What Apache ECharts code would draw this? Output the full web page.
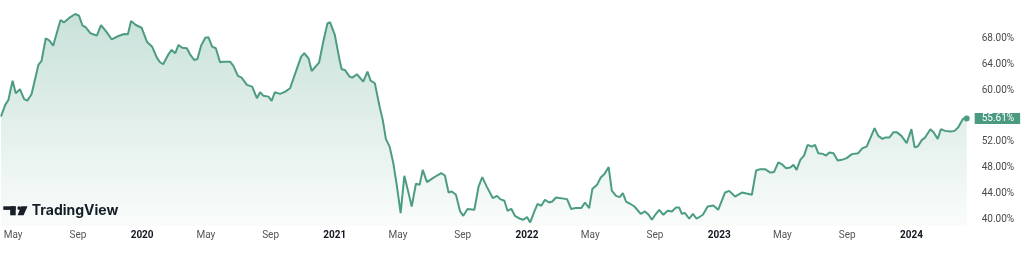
<!DOCTYPE html>
<html><head><meta charset="utf-8">
<script src="https://cdn.jsdelivr.net/npm/echarts@6/dist/echarts.min.js"></script>
<style>html,body{margin:0;padding:0;background:#fff}#c{width:1024px;height:255px}</style>
</head><body><div id="c"></div>
<script>
const dates = [
'2019-04-08','2019-04-16','2019-04-22','2019-04-30','2019-05-06','2019-05-14','2019-05-22','2019-05-28','2019-06-05','2019-06-18',
'2019-06-24','2019-07-02','2019-07-09','2019-07-16','2019-07-30','2019-08-06','2019-08-17','2019-08-27','2019-09-03','2019-09-10',
'2019-09-16','2019-09-25','2019-10-07','2019-10-15','2019-10-26','2019-11-04','2019-11-17','2019-11-28','2019-12-05','2019-12-11',
'2019-12-20','2019-12-31','2020-01-10','2020-01-20','2020-01-29','2020-02-04','2020-02-10','2020-02-20','2020-02-26','2020-03-04',
'2020-03-10','2020-03-17','2020-03-26','2020-04-01','2020-04-09','2020-04-15','2020-04-22','2020-04-30','2020-05-06','2020-05-13',
'2020-05-20','2020-05-28','2020-06-03','2020-06-16','2020-06-22','2020-07-01','2020-07-08','2020-07-18','2020-07-28','2020-08-06',
'2020-08-12','2020-08-18','2020-08-28','2020-09-03','2020-09-09','2020-09-19','2020-09-29','2020-10-08','2020-10-19','2020-10-29',
'2020-11-04','2020-11-12','2020-11-18','2020-12-02','2020-12-10','2020-12-18','2020-12-23','2021-01-01','2021-01-10','2021-01-14',
'2021-01-20','2021-01-29','2021-02-03','2021-02-12','2021-02-24','2021-03-04','2021-03-10','2021-03-18','2021-03-27','2021-04-02',
'2021-04-08','2021-04-15','2021-04-22','2021-04-29','2021-05-06','2021-05-13','2021-05-21','2021-05-27','2021-06-04','2021-06-11',
'2021-06-17','2021-06-25','2021-07-04','2021-07-14','2021-07-22','2021-07-29','2021-08-05','2021-08-11','2021-08-19','2021-08-27',
'2021-09-02','2021-09-10','2021-09-23','2021-10-01','2021-10-08','2021-10-17','2021-10-28','2021-11-05','2021-11-11','2021-11-19',
'2021-11-25','2021-12-02','2021-12-09','2021-12-19','2021-12-25','2022-01-01','2022-01-07','2022-01-15','2022-01-21','2022-01-28',
'2022-02-04','2022-02-12','2022-02-18','2022-02-25','2022-03-18','2022-03-26','2022-04-02','2022-04-14','2022-04-21','2022-04-29',
'2022-05-05','2022-05-14','2022-05-21','2022-05-28','2022-06-05','2022-06-11','2022-06-19','2022-06-26','2022-07-02','2022-07-08',
'2022-07-16','2022-07-24','2022-08-05','2022-08-13','2022-08-20','2022-08-26','2022-09-03','2022-09-09','2022-09-17','2022-09-25',
'2022-10-03','2022-10-11','2022-10-17','2022-10-22','2022-10-28','2022-11-05','2022-11-12','2022-11-19','2022-12-01','2022-12-10',
'2022-12-21','2022-12-30','2023-01-12','2023-01-20','2023-01-31','2023-02-13','2023-02-24','2023-03-04','2023-03-12','2023-03-20',
'2023-03-29','2023-04-08','2023-04-15','2023-04-23','2023-04-30','2023-05-08','2023-05-16','2023-05-22','2023-05-28','2023-06-04',
'2023-06-11','2023-06-18','2023-06-26','2023-07-02','2023-07-08','2023-07-17','2023-07-23','2023-07-29','2023-08-06','2023-08-14',
'2023-08-22','2023-08-31','2023-09-10','2023-09-22','2023-09-30','2023-10-08','2023-10-15','2023-10-23','2023-10-30','2023-11-07',
'2023-11-12','2023-11-20','2023-11-28','2023-12-04','2023-12-13','2023-12-23','2024-01-01','2024-01-07','2024-01-13','2024-01-21',
'2024-01-27','2024-02-06','2024-02-12','2024-02-20','2024-02-26','2024-03-05','2024-03-15','2024-03-23','2024-03-30','2024-04-08',
'2024-04-15'
];
const values = [
55.9,57.7,58.47,61.45,59.51,60.12,58.58,58.36,59.35,63.88,
64.5,68.01,67.64,66.86,70.83,70.48,71.25,71.76,71.5,69.95,
69.71,68.78,68.41,70.06,68.93,67.85,68.36,68.67,68.62,70.68,
70.06,69.64,67.48,66.71,65.01,64.3,63.99,65.53,66.2,65.69,
66.97,66.55,66.46,65.53,64.65,64.81,66.86,68.1,68.16,66.71,
66.46,64.3,64.39,64.39,63.77,62.18,61.92,60.79,60.53,58.73,
59.66,59.13,58.98,58.32,59.66,59.4,59.75,60.28,62.84,65.16,
65.69,64.91,62.95,64.23,67.48,70.32,70.48,68.52,64.65,63.21,
63.11,62.07,61.92,62.44,61.3,62.84,61.45,61.05,57.43,55.38,
52.4,51.25,48.69,45.07,40.96,46.72,44.05,41.98,45.49,45.33,
47.65,45.75,46.26,46.77,47.14,46.77,44.14,44.3,43.79,41.21,
40.54,41.58,41.47,45.07,46.52,44.98,43.28,43.63,43.12,42.86,
41.31,41.62,40.54,40.08,39.92,40.34,39.51,41.21,42.4,42.09,
43.01,42.6,42.75,43.37,43.12,41.58,41.73,41.73,42.6,41.73,
44.67,45.33,46.46,46.99,48.07,44.45,43.63,43.43,44.05,42.75,
42.4,41.98,40.85,41.21,40.7,39.92,40.85,41.47,40.7,41.31,
41.21,41.82,41.82,40.85,40.96,40.08,40.85,40.08,40.7,41.98,
42.13,41.47,44.14,44.4,43.52,44.14,43.94,43.79,47.54,47.76,
47.76,47.23,47.3,48.78,48.53,47.91,48.01,48.42,47.65,49.2,
49.86,51.51,51.25,51.51,50.23,50.12,49.86,50.32,50.23,49.09,
49.2,49.46,50.08,50.23,51.0,51.25,52.55,54.1,52.91,52.44,
52.64,52.64,53.48,53.48,52.91,51.78,53.94,51.16,51.25,52.29,
52.64,53.94,53.48,52.44,53.94,53.68,53.57,53.68,54.25,55.55,
55.61
];
const xTickDates = ['2019-05-01','2019-09-01','2020-01-01','2020-05-01','2020-09-01','2021-01-01','2021-05-01','2021-09-01',
  '2022-01-01','2022-05-01','2022-09-01','2023-01-01','2023-05-01','2023-09-01','2024-01-01'];
const yTickValues = [40,44,48,52,60,64,68];
const monthNames = ['Jan','Feb','Mar','Apr','May','Jun','Jul','Aug','Sep','Oct','Nov','Dec'];

function ts(s){const p=s.split('-');return new Date(+p[0],+p[1]-1,+p[2]).getTime();}
const lineColor = '#4c9c84';
const seriesData = dates.map((d,i)=>[ts(d), values[i]]);
const lastIdx = values.length-1;

const chart = echarts.init(document.getElementById('c'), null, {renderer:'canvas'});
chart.setOption({
  animation:false,
  backgroundColor:'#ffffff',
  grid:{left:1,right:57.3,top:0,bottom:29,containLabel:false},
  xAxis:{
    type:'value',
    min:ts(dates[0]), max:ts(dates[lastIdx]),
    axisLine:{show:false}, axisTick:{show:false}, splitLine:{show:false},
    axisLabel:{
      customValues: xTickDates.map(ts),
      margin:4,
      fontSize:10, fontFamily:'Roboto', color:'#555555',
      formatter:function(v){const d=new Date(v); return d.getMonth()===0?'{y|'+d.getFullYear()+'}':monthNames[d.getMonth()];},
      rich:{y:{fontSize:10,fontFamily:'Roboto',fontWeight:'bold',color:'#131722'}}
    }
  },
  yAxis:{
    type:'value', position:'right',
    min:38.96, max:73.93,
    axisLine:{show:false}, axisTick:{show:false}, splitLine:{show:false},
    axisLabel:{
      customValues: yTickValues,
      margin:15, fontSize:10, fontFamily:'Roboto', color:'#4a4a4a',
      formatter:function(v){return v.toFixed(2)+'%';}
    }
  },
  series:[
    {
      type:'line', data:seriesData, showSymbol:false, symbol:'none',
      lineStyle:{color:lineColor,width:2},
      areaStyle:{origin:'start',opacity:1,color:new echarts.graphic.LinearGradient(0,0,0,1,[
        {offset:0,color:'rgba(76,156,132,0.30)'},
        {offset:1,color:'rgba(76,156,132,0.03)'}
      ])},
      z:2
    },
    {
      type:'scatter', data:[seriesData[lastIdx]], symbol:'circle', symbolSize:6,
      itemStyle:{color:lineColor,opacity:1}, z:3,
      label:{show:true, position:'right', distance:5,
        formatter:function(p){return p.value[1].toFixed(2)+'%';},
        backgroundColor:'#4a9a82', color:'#ffffff', fontSize:10, fontFamily:'Roboto',
        lineHeight:11, padding:[0,6,0,7], opacity:1}
    }
  ],
  graphic:[
    {type:'rect', shape:{x:3.3,y:206.3,width:12.4,height:3.6}, style:{fill:'#131722'}},
    {type:'rect', shape:{x:10.2,y:206.3,width:5.5,height:9}, style:{fill:'#131722'}},
    {type:'circle', shape:{cx:19.2,cy:208.1,r:1.9}, style:{fill:'#131722'}},
    {type:'polygon', shape:{points:[[21.2,206.3],[27.5,206.3],[23.6,215.3],[17.6,215.3]]}, style:{fill:'#131722'}},
    {type:'text', x:31.7, y:211, style:{text:'TradingView', font:'bold 14px Inter', fill:'#131722', verticalAlign:'middle'}}
  ]
});
</script>
</body></html>
